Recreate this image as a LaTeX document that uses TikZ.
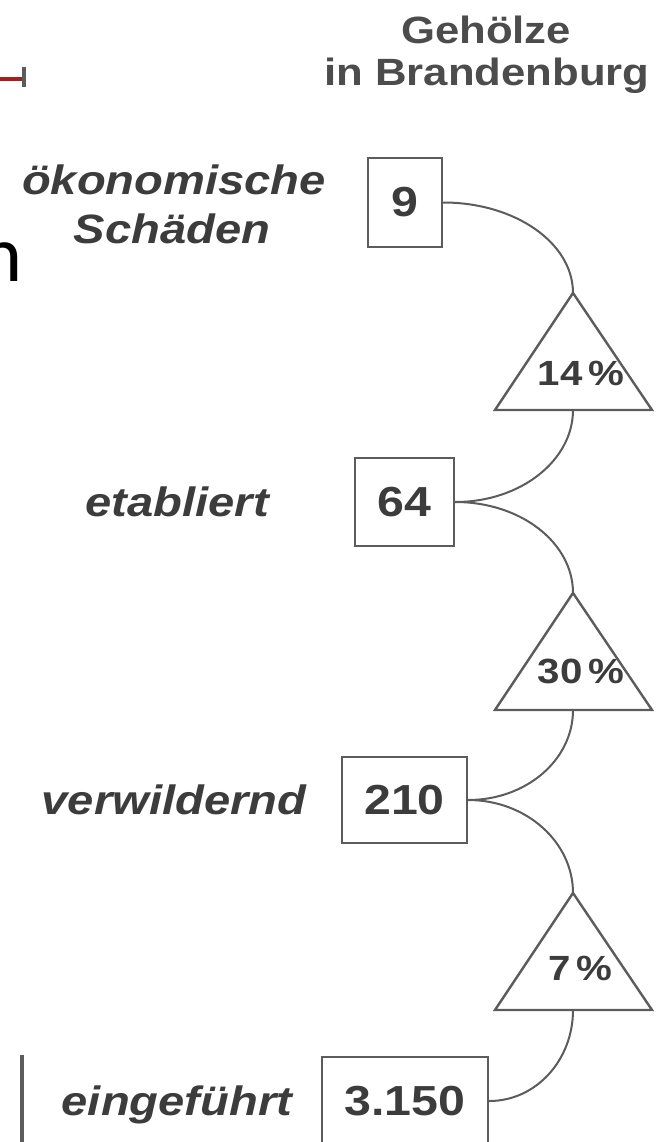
\documentclass[tikz,border=0pt]{standalone}
\usepackage{fontspec}
\setmainfont{Liberation Sans}
\newfontfamily\widesans{Liberation Sans}[FakeStretch=1.15]
\newfontfamily\slidefont{Carlito}
\definecolor{inkgray}{HTML}{3C3C3C}
\definecolor{titlegray}{HTML}{4C4C4C}
\definecolor{linegray}{HTML}{5C5C5C}
\definecolor{slidered}{HTML}{A3201E}
\begin{document}
\begin{tikzpicture}[x=1pt, y=-1pt,
  numbox/.style={draw=linegray, line width=2.4pt, text=inkgray, inner sep=0pt,
    font=\widesans\bfseries\fontsize{42}{42}\selectfont},
  levellabel/.style={text=inkgray, inner sep=0pt, anchor=base,
    font=\widesans\bfseries\itshape\fontsize{41}{41}\selectfont},
  ratelabel/.style={text=inkgray, inner sep=0pt,
    font=\widesans\bfseries\fontsize{35}{35}\selectfont},
  titlelabel/.style={text=titlegray, inner sep=0pt, anchor=base,
    font=\widesans\bfseries\fontsize{38}{38}\selectfont},
  ratetri/.style={draw=linegray, line width=2.4pt, line join=miter},
  link/.style={draw=linegray, line width=2pt}]
\useasboundingbox (0,0) rectangle (657,1142);
\clip (0,0) rectangle (657,1142);

% fragments of the surrounding slide
\draw[slidered, line width=4pt] (0,79) -- (22,79);
\draw[linegray, line width=3.5pt] (24,67) -- (24,87);
\node[anchor=base east, inner sep=0pt, font=\slidefont\fontsize{80}{80}\selectfont]
  (slideletter) at (23,281) {n};
\draw[linegray, line width=3.5pt] (22,1055) -- (22,1150);

% heading
\node[titlelabel] (headA) at (486,44) {Gehölze};
\node[titlelabel] (headB) at (487,86) {in Brandenburg};

% counts per invasion stage
\node[numbox, minimum width=74pt, minimum height=89pt] (b9) at (405,202.5) {9};
\node[numbox, minimum width=99pt, minimum height=88pt] (b64) at (404.5,502) {64};
\node[numbox, minimum width=125pt, minimum height=86pt] (b210) at (404.5,800) {210};
\node[numbox, minimum width=166pt, minimum height=88pt] (b3150) at (405,1101) {3.150};

% stage names
\node[levellabel] (l9a) at (174,194) {ökonomische};
\node[levellabel] (l9b) at (172,243) {Schäden};
\node[levellabel] (l64) at (177,516) {etabliert};
\node[levellabel] (l210) at (174,814) {verwildernd};
\node[levellabel] (l3150) at (177,1115) {eingeführt};

% transition rates
\coordinate (t1a) at (573,293);  \coordinate (t1b) at (573,410);
\coordinate (t2a) at (573,593);  \coordinate (t2b) at (573,710);
\coordinate (t3a) at (573,893);  \coordinate (t3b) at (573,1010);
\draw[ratetri] (t1a) -- (652,410) -- (495,410) -- cycle;
\draw[ratetri] (t2a) -- (652,710) -- (495,710) -- cycle;
\draw[ratetri] (t3a) -- (652,1010) -- (495,1010) -- cycle;
\node[ratelabel] (r1) at (581,373) {14\,\%};
\node[ratelabel] (r2) at (581,671) {30\,\%};
\node[ratelabel] (r3) at (580,968) {7\,\%};

% connecting arcs
\draw[link] (b9.east) .. controls +(72,0) and +(0,-50) .. (t1a);
\draw[link] (t1b) .. controls +(0,50) and +(66,0) .. (b64.east);
\draw[link] (b64.east) .. controls +(66,0) and +(0,-50) .. (t2a);
\draw[link] (t2b) .. controls +(0,50) and +(58,0) .. (b210.east);
\draw[link] (b210.east) .. controls +(58,0) and +(0,-51) .. (t3a);
\draw[link] (t3b) .. controls +(0,50) and +(47,0) .. (b3150.east);
\end{tikzpicture}
\end{document}
